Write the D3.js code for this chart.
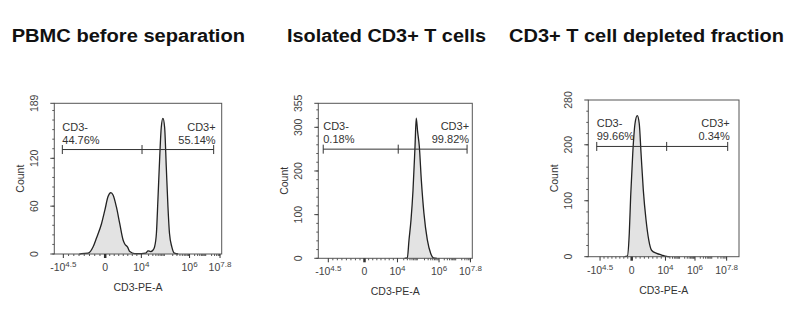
<!DOCTYPE html>
<meta charset="utf-8">
<script src="https://d3js.org/d3.v7.min.js"></script>
<style>
  body { margin: 0; background: #fff; }
  text { font-family: "Liberation Sans", Arial, sans-serif; }
</style>
<div id="chart"></div>
<script>
// ---- data ----
var titles = ["PBMC before separation", "Isolated CD3+ T cells", "CD3+ T cell depleted fraction"];

// histogram points: x in display channel (0-1000 across the plot), y = count
var pbmcChannel = [150, 163, 202, 232, 252, 282, 302, 321, 338, 351, 371, 391, 411, 421, 437, 451, 480, 520, 545, 560, 575, 590, 599, 610, 619, 629, 639, 649, 659, 669, 679, 688, 702, 718, 740];
var pbmcCount   = [0, 0.5, 1, 9, 20, 38, 55, 72, 77, 74, 59, 38, 17.5, 12.5, 9, 3, 0.5, 0.5, 1, 4, 3, 5, 9, 26, 68, 118, 159, 170, 159, 109, 59, 26, 9, 1, 0];

var cd3Channel = [560, 578, 589, 602, 615, 628, 636, 645, 656, 669, 686, 708, 730, 747, 770];
var cd3Count   = [0, 1, 42, 88, 156, 256, 321, 290, 256, 179, 103, 42, 11, 1, 0];

var depChannel = [240, 259, 272, 281, 295, 310, 325, 338, 350, 365, 383, 401, 421, 454, 487, 520, 540];
var depCount   = [0, 1, 42, 107, 185, 238, 252, 238, 185, 119, 66, 30, 11, 6, 3, 0.5, 0];

var yMax = [189, 355, 280];
var yMajor = [[0, 60, 120, 189], [0, 100, 200, 300, 355], [0, 100, 200, 280]];
var yMinorStep = [12, 20, 20];

var xTickBase = ["-10", "0", "10", "10", "10"];
var xTickExp  = ["4.5", "", "4", "6", "7.8"];
var xTickChannel = [[54, 304, 520, 808, 990], [65, 300, 514, 784, 988], [78, 288, 512, 708, 918]];

var gateChannel = [[48, 524, 952], [32, 519, 966], [56, 520, 925]];
var gateCount = [131, 250, 197];
var negName = "CD3-", posName = "CD3+";
var negPct = ["44.76%", "0.18%", "99.66%"];
var posPct = ["55.14%", "99.82%", "0.34%"];

var xTitle = "CD3-PE-A", yTitle = "Count";

// ---- layout of the three pasted panels ----
var panels = [
  {left: 54.3, right: 221.7, top: 103.3, bottom: 254, tx: 11.7, tw: 233.3, ch: pbmcChannel, ct: pbmcCount},
  {left: 318.3, right: 472.3, top: 103.3, bottom: 258.3, tx: 287, tw: 199, ch: cd3Channel, ct: cd3Count},
  {left: 588.3, right: 739, top: 100, bottom: 256.7, tx: 509, tw: 275, ch: depChannel, ct: depCount}
];

var svg = d3.select("#chart").append("svg")
  .attr("width", 795).attr("height", 329);

panels.forEach(function(p, i) {
  var g = svg.append("g");

  // title
  g.append("text")
    .attr("x", p.tx).attr("y", 41.7)
    .attr("textLength", p.tw).attr("lengthAdjust", "spacingAndGlyphs")
    .style("font-weight", "bold").style("font-size", "18px").style("fill", "#111")
    .text(titles[i]);

  var x = d3.scaleLinear().domain([0, 1000]).range([p.left, p.right]);
  var y = d3.scaleLinear().domain([0, yMax[i]]).range([p.bottom, p.top]);

  var pts = p.ch.map(function(c, k) { return [c, p.ct[k]]; });

  // histogram
  var area = d3.area().curve(d3.curveMonotoneX)
    .x(function(d) { return x(d[0]); }).y0(y(0)).y1(function(d) { return y(d[1]); });
  var line = d3.line().curve(d3.curveMonotoneX)
    .x(function(d) { return x(d[0]); }).y(function(d) { return y(d[1]); });
  g.append("path").datum(pts).attr("d", area).style("fill", "#e3e3e3");
  g.append("path").datum(pts).attr("d", line)
    .style("fill", "none").style("stroke", "#222").style("stroke-width", 1.3);

  // frame
  g.append("rect")
    .attr("x", p.left).attr("y", p.top)
    .attr("width", p.right - p.left).attr("height", p.bottom - p.top)
    .style("fill", "none").style("stroke", "#555").style("stroke-width", 1);

  // y axis ticks
  var minor = d3.range(0, yMax[i], yMinorStep[i]);
  g.selectAll(".ymin").data(minor).enter().append("line")
    .attr("x1", p.left - 2).attr("x2", p.left)
    .attr("y1", function(d) { return y(d); }).attr("y2", function(d) { return y(d); })
    .style("stroke", "#555");
  g.selectAll(".ymaj").data(yMajor[i]).enter().append("line")
    .attr("x1", p.left - 4).attr("x2", p.left)
    .attr("y1", function(d) { return y(d); }).attr("y2", function(d) { return y(d); })
    .style("stroke", "#444");
  g.selectAll(".ylab").data(yMajor[i]).enter().append("text")
    .attr("transform", function(d) { return "translate(" + (p.left - 16) + "," + y(d) + ") rotate(-90)"; })
    .attr("text-anchor", "middle")
    .style("font-size", "10.5px").style("fill", "#444")
    .text(function(d) { return d; });
  g.append("text")
    .attr("transform", "translate(" + (p.left - 30) + "," + ((p.top + p.bottom) / 2) + ") rotate(-90)")
    .attr("text-anchor", "middle")
    .style("font-size", "10.5px").style("fill", "#333")
    .text(yTitle);

  // x axis ticks
  var tc = xTickChannel[i];
  var xMinor = [];
  [[0, 1], [1, 2]].forEach(function(s) {
    for (var k = 1; k < 8; k++) xMinor.push(tc[s[0]] + (tc[s[1]] - tc[s[0]]) * k / 8);
  });
  [[2, 3, 4, 6], [3, 4, 6, 7.8]].forEach(function(s) {
    for (var d = s[2]; d < s[3]; d++) {
      for (var m = 2; m < 10; m++) {
        var lv = d + Math.log10(m);
        if (lv < s[3]) xMinor.push(tc[s[0]] + (lv - s[2]) / (s[3] - s[2]) * (tc[s[1]] - tc[s[0]]));
      }
    }
  });
  g.selectAll(".xmin").data(xMinor).enter().append("line")
    .attr("x1", function(d) { return x(d); }).attr("x2", function(d) { return x(d); })
    .attr("y1", p.bottom).attr("y2", p.bottom + 2)
    .style("stroke", "#555");
  g.selectAll(".xmaj").data(tc).enter().append("line")
    .attr("x1", function(d) { return x(d); }).attr("x2", function(d) { return x(d); })
    .attr("y1", p.bottom).attr("y2", p.bottom + 4)
    .style("stroke", "#333").style("stroke-width", function(d, k) { return k === 1 ? 2.5 : 1; });
  var xl = g.selectAll(".xlab").data(tc).enter().append("text")
    .attr("x", function(d) { return x(d); }).attr("y", p.bottom + 17)
    .attr("text-anchor", "middle")
    .style("font-size", "10.5px").style("fill", "#444");
  xl.append("tspan").text(function(d, k) { return xTickBase[k]; });
  xl.append("tspan").attr("dy", -4).style("font-size", "8px")
    .text(function(d, k) { return xTickExp[k]; });
  g.append("text")
    .attr("x", (p.left + p.right) / 2).attr("y", p.bottom + 37)
    .attr("text-anchor", "middle")
    .style("font-size", "10.5px").style("fill", "#333")
    .text(xTitle);

  // gate
  var gc = gateChannel[i], gy = y(gateCount[i]);
  g.append("line")
    .attr("x1", x(gc[0])).attr("x2", x(gc[2])).attr("y1", gy).attr("y2", gy)
    .style("stroke", "#333").style("stroke-width", 1);
  g.selectAll(".gt").data(gc).enter().append("line")
    .attr("x1", function(d) { return x(d); }).attr("x2", function(d) { return x(d); })
    .attr("y1", gy - 4.5).attr("y2", gy + 4.5)
    .style("stroke", "#333");
  var lab = g.append("g").style("font-size", "11px").style("fill", "#333");
  lab.append("text").attr("x", x(gc[0])).attr("y", gy - 19).text(negName);
  lab.append("text").attr("x", x(gc[0])).attr("y", gy - 6).text(negPct[i]);
  lab.append("text").attr("x", x(gc[2]) + 2).attr("y", gy - 19).attr("text-anchor", "end").text(posName);
  lab.append("text").attr("x", x(gc[2]) + 2).attr("y", gy - 6).attr("text-anchor", "end").text(posPct[i]);
});
</script>
